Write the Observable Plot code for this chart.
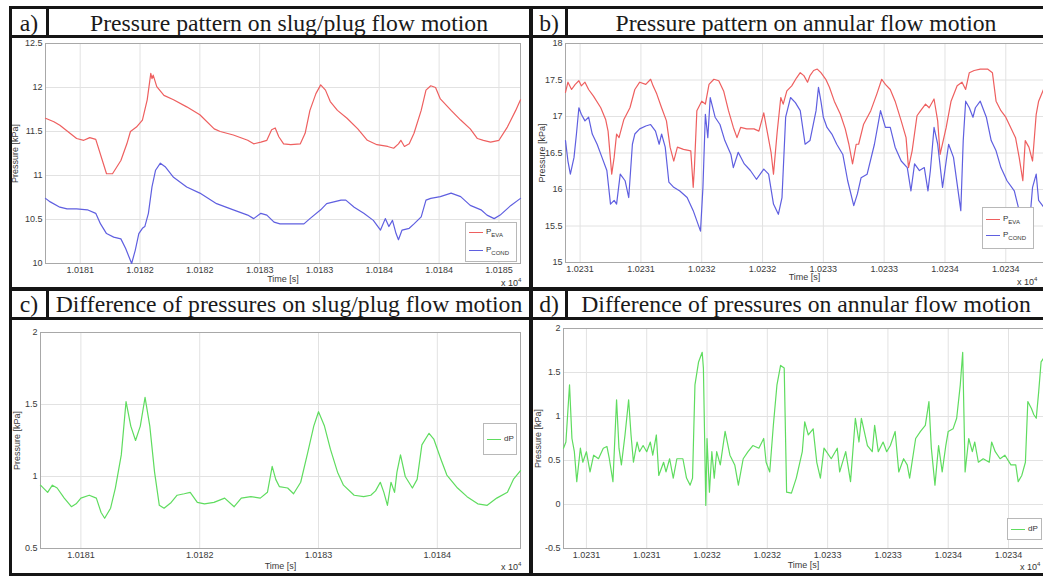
<!DOCTYPE html>
<html><head><meta charset="utf-8">
<script src="https://cdn.jsdelivr.net/npm/d3@7"></script>
<script src="https://cdn.jsdelivr.net/npm/@observablehq/plot@0.6"></script>
<style>
body{margin:0;background:#fff;width:1043px;height:576px;overflow:hidden;position:relative;font-family:"Liberation Sans",Arial,sans-serif;}
.bar{position:absolute;background:#151515;}
.title{position:absolute;font-family:"Liberation Serif","Times New Roman",serif;font-size:23.7px;color:#1a1a1a;text-align:center;white-space:nowrap;line-height:29px;height:29px;}
.plot{position:absolute;}
.plot svg{overflow:visible;}
.legend{position:absolute;border:1px solid #b8b8b8;background:#fff;font-size:8px;color:#333;}
.legend .row{position:absolute;left:3px;height:10px;}
.legend .sw{position:absolute;left:0;top:5px;width:14px;height:0;border-top:1.2px solid;}
.legend .lb{position:absolute;left:17px;top:0;white-space:nowrap;line-height:9px;}
.legend sub{font-size:6px;vertical-align:-3px;}
.exp{position:absolute;font-size:9px;color:#333;white-space:nowrap;}
.exp sup{font-size:6px;vertical-align:4px;}
</style></head><body>
<div id="pa" class="plot" style="left:10px;top:38px"></div>
<div id="pb" class="plot" style="left:532px;top:38px"></div>
<div id="pc" class="plot" style="left:10px;top:318px"></div>
<div id="pd" class="plot" style="left:532px;top:318px"></div>

<div class="title" style="left:12px;top:9px;width:34px">a)</div>
<div class="title" style="left:49px;top:9px;width:480px">Pressure pattern on slug/plug flow motion</div>
<div class="title" style="left:533px;top:9px;width:32px">b)</div>
<div class="title" style="left:568px;top:9px;width:476px">Pressure pattern on annular flow motion</div>
<div class="title" style="left:12px;top:290px;width:34px">c)</div>
<div class="title" style="left:49px;top:290px;width:480px">Difference of pressures on slug/plug flow motion</div>
<div class="title" style="left:533px;top:290px;width:32px">d)</div>
<div class="title" style="left:568px;top:290px;width:476px">Difference of pressures on annular flow motion</div>

<div class="bar" style="left:9px;top:6px;width:1034px;height:3px"></div>
<div class="bar" style="left:9px;top:35px;width:1034px;height:3px"></div>
<div class="bar" style="left:9px;top:287px;width:1034px;height:4px"></div>
<div class="bar" style="left:9px;top:317px;width:1034px;height:3px"></div>
<div class="bar" style="left:9px;top:573px;width:1034px;height:3px"></div>
<div class="bar" style="left:9px;top:6px;width:3px;height:570px"></div>
<div class="bar" style="left:529px;top:6px;width:4px;height:570px"></div>
<div class="bar" style="left:46px;top:6px;width:3px;height:32px"></div>
<div class="bar" style="left:565px;top:6px;width:3px;height:32px"></div>
<div class="bar" style="left:46px;top:287px;width:3px;height:33px"></div>
<div class="bar" style="left:565px;top:287px;width:3px;height:33px"></div>

<div class="exp" style="left:501px;top:277px">x 10<sup>4</sup></div>
<div class="exp" style="left:1017px;top:276px">x 10<sup>4</sup></div>
<div class="exp" style="left:501px;top:561px">x 10<sup>4</sup></div>
<div class="exp" style="left:1020px;top:561px">x 10<sup>4</sup></div>

<script>
// ---------- colours ----------
const colEva = "#ee5f5f", colCond = "#5f5fe0", colDp = "#5fdc5f";

// ---------- panel a: slug/plug pressures ----------
const tA_eva = [10180.71,10180.78,10180.83,10180.97,10181.03,10181.08,10181.13,10181.22,10181.27,10181.34,10181.39,10181.42,10181.47,10181.52,10181.56,10181.59,10181.60,10181.61,10181.64,10181.70,10181.78,10181.89,10182.00,10182.12,10182.17,10182.28,10182.40,10182.45,10182.51,10182.56,10182.60,10182.63,10182.66,10182.70,10182.76,10182.84,10182.88,10182.92,10182.97,10183.01,10183.05,10183.09,10183.15,10183.23,10183.32,10183.40,10183.48,10183.57,10183.62,10183.66,10183.68,10183.71,10183.75,10183.79,10183.85,10183.89,10183.93,10183.97,10184.01,10184.10,10184.18,10184.26,10184.32,10184.37,10184.43,10184.50,10184.57,10184.64,10184.68];
const pA_eva = [11.65,11.61,11.57,11.42,11.40,11.43,11.41,11.02,11.02,11.17,11.36,11.50,11.55,11.63,11.86,12.16,12.10,12.14,12.01,11.91,11.86,11.78,11.69,11.53,11.50,11.46,11.40,11.36,11.38,11.40,11.52,11.54,11.44,11.36,11.35,11.36,11.48,11.74,11.93,12.03,11.97,11.84,11.74,11.65,11.53,11.40,11.35,11.33,11.31,11.36,11.40,11.33,11.36,11.48,11.74,11.97,12.02,12.00,11.87,11.74,11.63,11.53,11.42,11.40,11.38,11.40,11.55,11.74,11.86];
const tA_cond = [10180.71,10180.75,10180.83,10180.89,10180.97,10181.06,10181.13,10181.17,10181.22,10181.28,10181.34,10181.38,10181.43,10181.46,10181.49,10181.52,10181.54,10181.57,10181.60,10181.63,10181.67,10181.71,10181.78,10181.89,10182.00,10182.14,10182.28,10182.40,10182.45,10182.51,10182.56,10182.62,10182.67,10182.76,10182.87,10182.92,10183.01,10183.06,10183.12,10183.18,10183.22,10183.29,10183.37,10183.45,10183.51,10183.55,10183.58,10183.61,10183.64,10183.66,10183.69,10183.75,10183.79,10183.85,10183.89,10183.93,10184.01,10184.10,10184.18,10184.26,10184.35,10184.40,10184.46,10184.51,10184.60,10184.68];
const pA_cond = [10.74,10.70,10.64,10.62,10.62,10.61,10.57,10.45,10.34,10.30,10.28,10.17,10.00,10.15,10.34,10.40,10.42,10.57,10.87,11.06,11.14,11.10,10.98,10.87,10.80,10.68,10.61,10.55,10.51,10.57,10.55,10.47,10.45,10.45,10.45,10.51,10.61,10.68,10.70,10.72,10.72,10.64,10.57,10.49,10.38,10.51,10.42,10.49,10.34,10.27,10.38,10.40,10.45,10.53,10.72,10.74,10.76,10.80,10.76,10.66,10.61,10.55,10.51,10.55,10.66,10.74];
const xTicksA = [10181,10181.5,10182,10182.5,10183,10183.5,10184,10184.5];
const xLabelsA = ["1.0181","1.0182","1.0182","1.0183","1.0183","1.0184","1.0184","1.0185"];
const yTicksA = [10,10.5,11,11.5,12,12.5];
const yLabelsA = ["10","10.5","11","11.5","12","12.5"];

// ---------- panel b: annular pressures ----------
const tB_eva = [10230.38,10230.40,10230.43,10230.46,10230.49,10230.51,10230.54,10230.57,10230.61,10230.67,10230.71,10230.73,10230.76,10230.78,10230.80,10230.82,10230.86,10230.91,10230.95,10230.99,10231.04,10231.08,10231.10,10231.13,10231.17,10231.21,10231.24,10231.27,10231.30,10231.35,10231.41,10231.43,10231.44,10231.46,10231.50,10231.53,10231.56,10231.60,10231.64,10231.68,10231.72,10231.76,10231.79,10231.82,10231.87,10231.93,10231.97,10232.01,10232.04,10232.07,10232.09,10232.12,10232.15,10232.17,10232.20,10232.24,10232.28,10232.31,10232.34,10232.37,10232.39,10232.42,10232.45,10232.48,10232.52,10232.55,10232.59,10232.64,10232.68,10232.71,10232.74,10232.77,10232.79,10232.83,10232.89,10232.94,10232.98,10233.01,10233.05,10233.09,10233.14,10233.18,10233.20,10233.23,10233.27,10233.30,10233.34,10233.37,10233.41,10233.44,10233.46,10233.51,10233.55,10233.60,10233.64,10233.67,10233.70,10233.74,10233.79,10233.85,10233.89,10233.92,10233.96,10234.00,10234.04,10234.08,10234.11,10234.14,10234.16,10234.19,10234.22,10234.25,10234.27,10234.31];
const pB_eva = [17.33,17.47,17.37,17.44,17.49,17.42,17.47,17.37,17.28,17.12,16.96,16.80,16.21,16.44,16.76,16.71,16.96,17.12,17.37,17.47,17.44,17.51,17.42,17.31,17.12,16.94,16.58,16.39,16.58,16.55,16.53,16.03,16.30,17.08,17.21,17.17,17.44,17.51,17.49,17.35,17.08,16.85,16.71,16.85,16.83,16.83,16.80,17.05,16.78,16.51,16.21,16.78,17.26,17.17,17.35,17.42,17.53,17.60,17.56,17.47,17.56,17.63,17.65,17.60,17.51,17.40,17.21,17.03,16.83,16.62,16.35,16.62,16.62,16.89,17.08,17.31,17.51,17.44,17.37,17.21,16.94,16.71,16.30,16.53,17.01,17.08,17.17,17.12,17.24,16.94,16.48,16.85,17.21,17.42,17.47,17.37,17.60,17.63,17.65,17.65,17.60,17.21,17.08,16.99,16.85,16.71,16.44,16.12,16.67,16.58,16.39,17.03,17.21,17.37];
const tB_cond = [10230.38,10230.40,10230.42,10230.45,10230.47,10230.49,10230.51,10230.54,10230.57,10230.60,10230.64,10230.68,10230.72,10230.75,10230.78,10230.80,10230.83,10230.87,10230.90,10230.93,10230.95,10230.99,10231.04,10231.08,10231.12,10231.15,10231.17,10231.20,10231.23,10231.27,10231.32,10231.38,10231.43,10231.49,10231.51,10231.53,10231.55,10231.57,10231.61,10231.65,10231.69,10231.74,10231.76,10231.80,10231.85,10231.90,10231.95,10232.01,10232.05,10232.09,10232.13,10232.16,10232.19,10232.23,10232.27,10232.31,10232.35,10232.39,10232.44,10232.46,10232.48,10232.50,10232.53,10232.57,10232.61,10232.66,10232.70,10232.75,10232.78,10232.81,10232.86,10232.92,10232.97,10233.01,10233.05,10233.09,10233.14,10233.19,10233.22,10233.25,10233.29,10233.33,10233.36,10233.38,10233.41,10233.44,10233.48,10233.51,10233.53,10233.57,10233.63,10233.65,10233.67,10233.70,10233.73,10233.75,10233.79,10233.84,10233.88,10233.92,10233.96,10234.01,10234.07,10234.11,10234.15,10234.19,10234.22,10234.25,10234.27,10234.31];
const pB_cond = [16.67,16.39,16.21,16.44,16.76,17.12,17.03,16.94,16.99,16.76,16.62,16.44,16.26,15.80,15.85,15.80,16.21,16.12,15.89,16.62,16.76,16.83,16.87,16.89,16.80,16.62,16.76,16.58,16.10,16.03,15.98,15.89,15.71,15.43,16.03,17.03,16.71,17.26,16.99,16.89,16.67,16.48,16.30,16.51,16.35,16.26,16.14,16.28,16.21,15.80,15.66,15.89,16.99,17.26,17.19,17.08,16.62,16.67,17.08,17.40,17.21,16.99,16.85,16.76,16.62,16.48,16.12,15.78,15.94,16.16,16.21,16.62,17.08,16.85,16.85,16.58,16.39,16.30,15.98,16.35,16.26,16.30,15.98,16.26,16.85,16.62,16.03,16.39,16.62,16.44,15.71,16.67,17.21,17.12,16.99,17.12,17.21,16.99,16.67,16.53,16.30,16.12,15.98,15.71,15.62,15.43,16.03,16.21,15.85,15.76];
const xTicksB = [10230.5,10231,10231.5,10232,10232.5,10233,10233.5,10234];
const xLabelsB = ["1.0231","1.0231","1.0232","1.0232","1.0233","1.0233","1.0234","1.0234"];
const yTicksB = [15,15.5,16,16.5,17,17.5,18];
const yLabelsB = ["15","15.5","16","16.5","17","17.5","18"];

// ---------- panel c: slug/plug pressure difference ----------
const tC = [10180.66,10180.72,10180.76,10180.80,10180.86,10180.92,10180.96,10181.00,10181.07,10181.13,10181.17,10181.20,10181.25,10181.29,10181.34,10181.38,10181.42,10181.46,10181.50,10181.54,10181.58,10181.62,10181.66,10181.70,10181.76,10181.81,10181.87,10181.92,10181.98,10182.04,10182.12,10182.21,10182.29,10182.35,10182.43,10182.51,10182.57,10182.61,10182.64,10182.67,10182.74,10182.79,10182.85,10182.91,10182.96,10183.00,10183.05,10183.10,10183.16,10183.21,10183.30,10183.38,10183.44,10183.48,10183.52,10183.55,10183.58,10183.61,10183.64,10183.66,10183.69,10183.73,10183.79,10183.83,10183.87,10183.93,10183.97,10184.03,10184.08,10184.17,10184.25,10184.34,10184.42,10184.50,10184.59,10184.64,10184.70];
const dPC = [0.94,0.89,0.94,0.92,0.85,0.79,0.81,0.85,0.87,0.85,0.75,0.71,0.78,0.92,1.15,1.52,1.35,1.25,1.35,1.55,1.35,1.03,0.80,0.78,0.82,0.87,0.88,0.89,0.82,0.81,0.82,0.85,0.79,0.85,0.86,0.85,0.89,1.07,0.98,0.93,0.92,0.88,0.96,1.17,1.35,1.45,1.35,1.19,1.03,0.94,0.87,0.86,0.87,0.90,0.96,0.89,0.80,0.96,0.89,1.03,1.15,1.00,0.92,0.98,1.22,1.30,1.26,1.12,1.01,0.92,0.86,0.81,0.80,0.85,0.89,0.98,1.04];
const xTicksC = [10181,10182,10183,10184];
const xLabelsC = ["1.0181","1.0182","1.0183","1.0184"];
const yTicksC = [0.5,1,1.5,2];
const yLabelsC = ["0.5","1","1.5","2"];

// ---------- panel d: annular pressure difference ----------
const tD = [10230.31,10230.33,10230.36,10230.38,10230.40,10230.42,10230.45,10230.47,10230.50,10230.53,10230.56,10230.60,10230.64,10230.67,10230.69,10230.72,10230.75,10230.77,10230.79,10230.82,10230.85,10230.87,10230.89,10230.92,10230.94,10230.97,10231.00,10231.03,10231.05,10231.08,10231.10,10231.14,10231.16,10231.19,10231.22,10231.25,10231.28,10231.30,10231.33,10231.36,10231.38,10231.40,10231.43,10231.46,10231.47,10231.49,10231.50,10231.52,10231.54,10231.56,10231.58,10231.61,10231.65,10231.69,10231.73,10231.76,10231.80,10231.84,10231.88,10231.93,10231.97,10231.99,10232.02,10232.05,10232.08,10232.11,10232.14,10232.16,10232.20,10232.24,10232.29,10232.31,10232.34,10232.38,10232.41,10232.44,10232.47,10232.49,10232.53,10232.58,10232.60,10232.65,10232.69,10232.73,10232.76,10232.78,10232.83,10232.87,10232.89,10232.92,10232.96,10232.99,10233.02,10233.06,10233.09,10233.13,10233.16,10233.18,10233.23,10233.27,10233.31,10233.34,10233.36,10233.39,10233.42,10233.45,10233.48,10233.50,10233.54,10233.57,10233.60,10233.62,10233.64,10233.67,10233.70,10233.72,10233.75,10233.79,10233.84,10233.86,10233.89,10233.93,10233.97,10234.02,10234.06,10234.08,10234.11,10234.14,10234.16,10234.19,10234.21,10234.23,10234.25,10234.27,10234.29];
const dPD = [0.64,0.71,1.36,0.75,0.60,0.26,0.64,0.48,0.60,0.37,0.56,0.52,0.64,0.66,0.52,0.26,1.19,0.64,0.45,0.79,1.19,0.79,0.48,0.71,0.60,0.67,0.60,0.71,0.56,0.79,0.33,0.48,0.37,0.52,0.30,0.52,0.52,0.52,0.30,0.22,0.30,1.36,1.62,1.73,1.55,-0.01,0.75,0.14,0.60,0.30,0.60,0.45,0.83,0.56,0.45,0.22,0.52,0.60,0.67,0.64,0.75,0.48,0.37,0.90,1.36,1.58,1.55,0.14,0.13,0.30,0.60,0.94,0.79,0.86,0.48,0.30,0.64,0.60,0.52,0.64,0.37,0.60,0.26,0.98,0.71,0.98,0.67,0.60,0.90,0.60,0.71,0.60,0.67,0.83,0.37,0.52,0.45,0.30,0.75,0.83,0.90,1.17,0.64,0.22,0.67,0.37,0.67,0.83,0.86,0.98,1.36,1.73,0.37,0.75,0.60,0.71,0.48,0.52,0.48,0.71,0.60,0.52,0.56,0.45,0.45,0.26,0.33,0.48,1.17,1.09,1.02,0.98,1.28,1.62,1.66];
const xTicksD = [10230.5,10231,10231.5,10232,10232.5,10233,10233.5,10234];
const xLabelsD = ["1.0231","1.0231","1.0232","1.0232","1.0233","1.0233","1.0234","1.0234"];
const yTicksD = [-0.5,0,0.5,1,1.5,2];
const yLabelsD = ["-0.5","0","0.5","1","1.5","2"];

function pairs(ts, vs) { return ts.map((t, i) => ({t, v: vs[i]})); }

function panel(cfg) {
  const xMap = new Map(cfg.xTicks.map((d, i) => [d, cfg.xLabels[i]]));
  const yMap = new Map(cfg.yTicks.map((d, i) => [d, cfg.yLabels[i]]));
  const lineMarks = cfg.series.map(s =>
    Plot.line(pairs(s.t, s.v), {x: "t", y: "v", stroke: s.color, strokeWidth: 1.2}));
  return Plot.plot({
    width: cfg.width, height: cfg.height,
    marginLeft: cfg.ml, marginRight: cfg.mr, marginTop: cfg.mt, marginBottom: cfg.mb,
    style: {fontSize: "9px", fontFamily: "'Liberation Sans', Arial, sans-serif", color: "#3a3a3a", background: "#fff", overflow: "visible"},
    x: {domain: cfg.xDomain, axis: null},
    y: {domain: cfg.yDomain, axis: null},
    marks: [
      Plot.gridX(cfg.xTicks, {stroke: "#e2e2e2", strokeOpacity: 1}),
      Plot.gridY(cfg.yTicks, {stroke: "#e2e2e2", strokeOpacity: 1}),
      Plot.frame({stroke: "#a8a8a8"}),
      ...lineMarks,
      Plot.axisX(cfg.xTicks, {tickSize: 0, tickPadding: 3, tickFormat: d => xMap.get(d), label: null, fill: "#3a3a3a"}),
      Plot.axisY(cfg.yTicks, {tickSize: 0, tickPadding: 3, tickFormat: d => yMap.get(d), label: null, fill: "#3a3a3a"}),
      Plot.text(["Time [s]"], {frameAnchor: "bottom", dy: cfg.xlabDy, textAnchor: "middle", lineAnchor: "middle", fill: "#3a3a3a"}),
      Plot.text(["Pressure [kPa]"], {frameAnchor: "left", dx: cfg.ylabDx, rotate: -90, textAnchor: "middle", lineAnchor: "middle", fill: "#3a3a3a"})
    ]
  });
}

document.getElementById("pa").append(panel({
  width: 520, height: 250, ml: 35, mr: 10, mt: 5, mb: 25,
  xDomain: [10180.71, 10184.68], yDomain: [10, 12.5],
  xTicks: xTicksA, xLabels: xLabelsA, yTicks: yTicksA, yLabels: yLabelsA, xlabDy: 16, ylabDx: -30,
  series: [{t: tA_eva, v: pA_eva, color: colEva}, {t: tA_cond, v: pA_cond, color: colCond}]
}));
document.getElementById("pb").append(panel({
  width: 511, height: 250, ml: 33, mr: 0, mt: 5, mb: 26,
  xDomain: [10230.38, 10234.31], yDomain: [15, 18],
  xTicks: xTicksB, xLabels: xLabelsB, yTicks: yTicksB, yLabels: yLabelsB, xlabDy: 15, ylabDx: -23,
  series: [{t: tB_eva, v: pB_eva, color: colEva}, {t: tB_cond, v: pB_cond, color: colCond}]
}));
document.getElementById("pc").append(panel({
  width: 520, height: 256, ml: 30, mr: 10, mt: 14, mb: 26,
  xDomain: [10180.66, 10184.70], yDomain: [0.5, 2],
  xTicks: xTicksC, xLabels: xLabelsC, yTicks: yTicksC, yLabels: yLabelsC, xlabDy: 18, ylabDx: -23,
  series: [{t: tC, v: dPC, color: colDp}]
}));
document.getElementById("pd").append(panel({
  width: 511, height: 256, ml: 31, mr: 0, mt: 10, mb: 26,
  xDomain: [10230.31, 10234.29], yDomain: [-0.5, 2],
  xTicks: xTicksD, xLabels: xLabelsD, yTicks: yTicksD, yLabels: yLabelsD, xlabDy: 17, ylabDx: -25,
  series: [{t: tD, v: dPD, color: colDp}]
}));

// ---------- legends ----------
function legend(left, top, w, h, entries) {
  const box = document.createElement("div");
  box.className = "legend";
  Object.assign(box.style, {left: left + "px", top: top + "px", width: w + "px", height: h + "px"});
  entries.forEach((e) => {
    const row = document.createElement("div");
    row.className = "row";
    row.style.top = (e.top) + "px";
    row.innerHTML = `<div class="sw" style="border-color:${e.color}"></div><div class="lb">${e.html}</div>`;
    box.append(row);
  });
  document.body.append(box);
}
legend(465, 222, 50, 38, [
  {color: colEva, html: "P<sub>EVA</sub>", top: 4},
  {color: colCond, html: "P<sub>COND</sub>", top: 22}
]);
legend(982, 207, 50, 40, [
  {color: colEva, html: "P<sub>EVA</sub>", top: 6},
  {color: colCond, html: "P<sub>COND</sub>", top: 22}
]);
legend(483, 423, 32, 30, [{color: colDp, html: "dP", top: 10}]);
legend(1007, 518, 33, 20, [{color: colDp, html: "dP", top: 5}]);
</script>
</body></html>
